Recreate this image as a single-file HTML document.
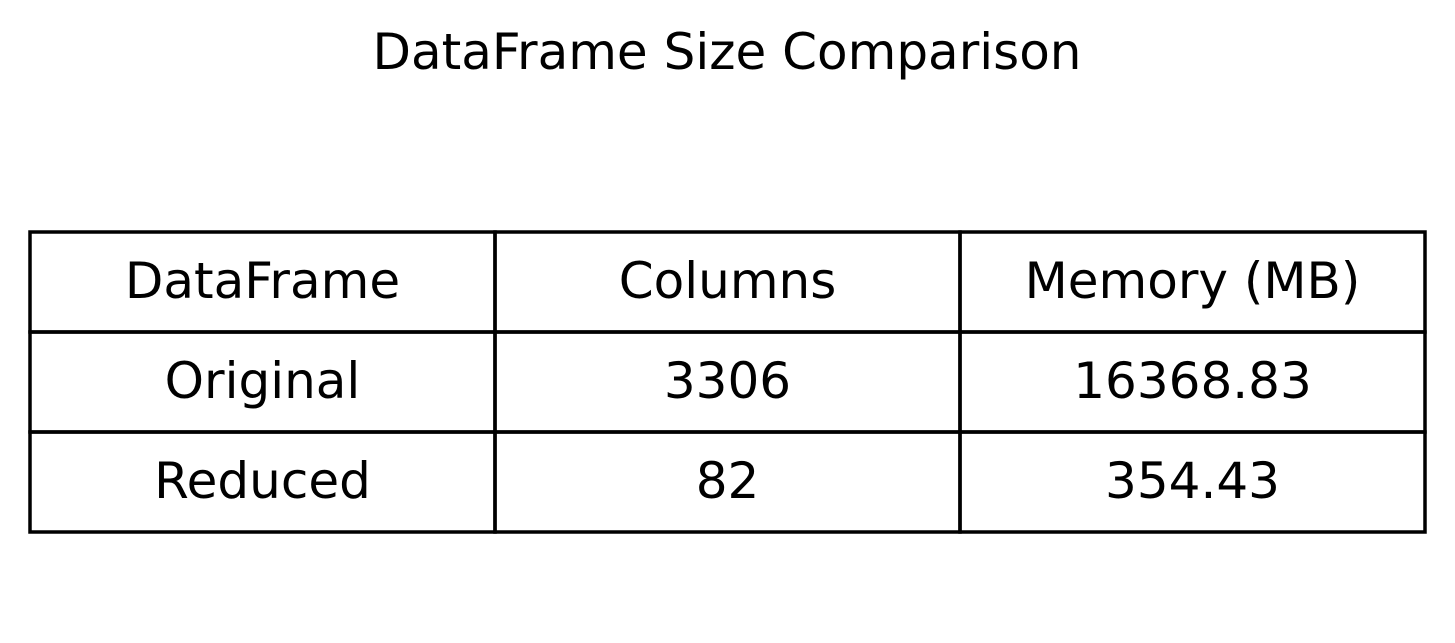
<!DOCTYPE html>
<html><head><meta charset="utf-8"><style>
html,body{margin:0;padding:0;background:#fff;}
svg{display:block;}
text{font-family:"DejaVu Sans","Liberation Sans",sans-serif;fill:#000;}
</style></head><body>
<svg id="chart" width="1455" height="643">
<text x="727" y="69" font-size="50" text-anchor="middle">DataFrame Size Comparison</text>
<g id="tbl"></g>
</svg>
<script>
const headers = ["DataFrame", "Columns", "Memory (MB)"];
const names = ["Original", "Reduced"];
const columns = ["3306", "82"];
const memory = ["16368.83", "354.43"];

const ns = "http://www.w3.org/2000/svg";
const g = document.getElementById('tbl');
const x0 = 30, colW = 465, y0 = 232, rowH = 100;
const rows = [headers].concat(names.map((n, i) => [n, columns[i], memory[i]]));
rows.forEach((r, ri) => {
  r.forEach((v, ci) => {
    const rect = document.createElementNS(ns, 'rect');
    rect.setAttribute('x', x0 + ci * colW);
    rect.setAttribute('y', y0 + ri * rowH);
    rect.setAttribute('width', colW);
    rect.setAttribute('height', rowH);
    rect.setAttribute('fill', 'none');
    rect.setAttribute('stroke', '#000');
    rect.setAttribute('stroke-width', '3.5');
    
    
    g.appendChild(rect);
    const t = document.createElementNS(ns, 'text');
    t.setAttribute('x', x0 + ci * colW + colW / 2);
    t.setAttribute('y', y0 + ri * rowH + 66);
    t.setAttribute('font-size', '50');
    t.setAttribute('text-anchor', 'middle');
    t.textContent = v;
    
    
    g.appendChild(t);
  });
});
</script>
</body></html>
